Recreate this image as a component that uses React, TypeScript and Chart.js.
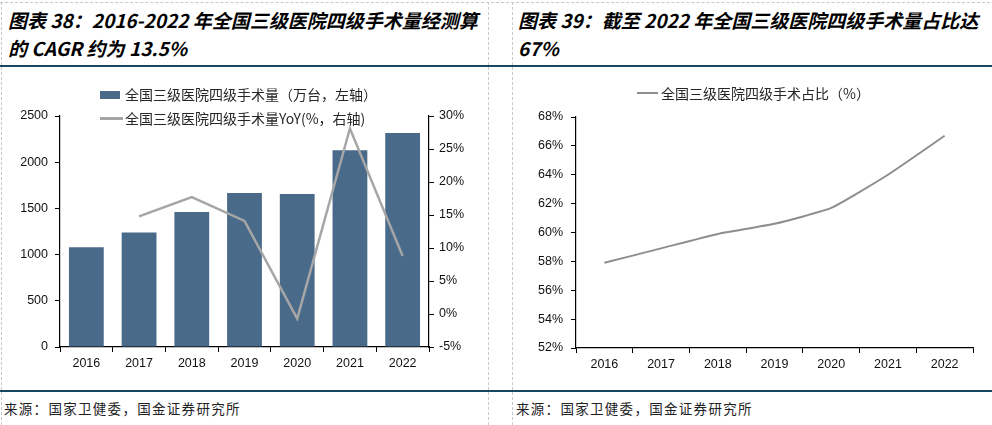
import React, { useEffect, useRef } from "react";
import { Chart, registerables } from "chart.js";

Chart.register(...registerables);

// ---- Data ----
const years = ["2016", "2017", "2018", "2019", "2020", "2021", "2022"];
const surgeryVolume = [1080, 1240, 1460, 1667, 1656, 2130, 2316]; // 万台
const surgeryYoY = [null, 14.8, 17.7, 14.1, -0.7, 28.1, 8.8]; // %
const fourthLevelShare = [57.9, 58.9, 59.9, 60.6, 61.7, 64.0, 66.7]; // %

const leftAxisRange = [0, 2500, 500];
const rightAxisRange = [-5, 30, 5];
const shareAxisRange = [52, 68, 2];

const volumeLabel = "全国三级医院四级手术量（万台，左轴）";
const yoyLabel = "全国三级医院四级手术量YoY(%，右轴)";
const shareLabel = "全国三级医院四级手术占比（%）";

const leftTitle = ["图表 38：2016-2022 年全国三级医院四级手术量经测算", "的 CAGR 约为 13.5%"];
const rightTitle = ["图表 39：截至 2022 年全国三级医院四级手术量占比达", "67%"];
const sourceText = "来源：国家卫健委，国金证券研究所";

// ---- Styles ----
const BAR_COLOR = "#4A6A8A";
const YOY_COLOR = "#A6A6A6";
const SHARE_COLOR = "#8E8E8E";
const RULE_COLOR = "#17485F";
const DASH_COLOR = "#C8C8C8";
const TICK_FONT = { family: "'Liberation Sans', Arial, sans-serif", size: 12.5 };
const CJK = "'Noto Sans CJK SC', 'Noto Sans', sans-serif";

function ChartCanvas({ config, width, height }: { config: any; width: number; height: number }) {
  const ref = useRef<HTMLCanvasElement | null>(null);
  useEffect(() => {
    if (!ref.current) return;
    const chart = new Chart(ref.current, config);
    return () => chart.destroy();
  }, [config]);
  return <canvas ref={ref} width={width} height={height} style={{ width, height, display: "block" }} />;
}

const fixWidth = (w: number) => (scale: any) => {
  scale.width = w;
};
const fixHeight = (h: number) => (scale: any) => {
  scale.height = h;
};

const leftConfig: any = {
  type: "bar",
  data: {
    labels: years,
    datasets: [
      {
        type: "line",
        label: yoyLabel,
        data: surgeryYoY,
        yAxisID: "yR",
        borderColor: YOY_COLOR,
        borderWidth: 2.5,
        pointRadius: 0,
        tension: 0,
        spanGaps: false,
        order: 0,
      },
      {
        type: "bar",
        label: volumeLabel,
        data: surgeryVolume,
        yAxisID: "yL",
        backgroundColor: BAR_COLOR,
        categoryPercentage: 1,
        barPercentage: 0.66,
        order: 1,
      },
    ],
  },
  options: {
    responsive: false,
    animation: false,
    layout: { padding: { top: 48, left: 0, right: 0, bottom: 0 } },
    plugins: { legend: { display: false }, tooltip: { enabled: false } },
    scales: {
      x: {
        offset: true,
        grid: { offset: true, drawOnChartArea: false, drawTicks: true, tickLength: 5, color: "#000" },
        border: { display: true, color: "#000", width: 1.2 },
        ticks: { font: TICK_FONT, color: "#111", padding: 4, maxRotation: 0 },
        afterFit: fixHeight(43),
      },
      yL: {
        position: "left",
        min: leftAxisRange[0],
        max: leftAxisRange[1],
        grid: { drawOnChartArea: false, tickLength: 5, color: "#000" },
        border: { display: true, color: "#000", width: 1.2 },
        ticks: {
          stepSize: leftAxisRange[2],
          font: TICK_FONT,
          color: "#111",
          padding: 7,
          callback: (v: any) => String(v),
        },
        afterFit: fixWidth(58),
      },
      yR: {
        position: "right",
        min: rightAxisRange[0],
        max: rightAxisRange[1],
        grid: { drawOnChartArea: false, tickLength: 5, color: "#000" },
        border: { display: true, color: "#000", width: 1.2 },
        ticks: {
          stepSize: rightAxisRange[2],
          font: TICK_FONT,
          color: "#111",
          padding: 5,
          callback: (v: any) => `${v}%`,
        },
        afterFit: fixWidth(59),
      },
    },
  },
};

const rightConfig: any = {
  type: "line",
  data: {
    labels: years,
    datasets: [
      {
        label: shareLabel,
        data: fourthLevelShare,
        borderColor: SHARE_COLOR,
        borderWidth: 2,
        pointRadius: 0,
        tension: 0.15,
        fill: false,
      },
    ],
  },
  options: {
    responsive: false,
    animation: false,
    layout: { padding: { top: 49, left: 0, right: 17, bottom: 0 } },
    plugins: { legend: { display: false }, tooltip: { enabled: false } },
    scales: {
      x: {
        offset: true,
        grid: { offset: true, drawOnChartArea: false, tickLength: 5, color: "#000" },
        border: { display: true, color: "#000", width: 1.2 },
        ticks: { font: TICK_FONT, color: "#111", padding: 4, maxRotation: 0 },
        afterFit: fixHeight(42),
      },
      y: {
        min: shareAxisRange[0],
        max: shareAxisRange[1],
        grid: { drawOnChartArea: false, tickLength: 5, color: "#000" },
        border: { display: true, color: "#000", width: 1.2 },
        ticks: {
          stepSize: shareAxisRange[2],
          font: TICK_FONT,
          color: "#111",
          padding: 8,
          callback: (v: any) => `${v}%`,
        },
        afterFit: fixWidth(63),
      },
    },
  },
};

const abs = (s: React.CSSProperties): React.CSSProperties => ({ position: "absolute", ...s });

function Title({ lines, left }: { lines: string[]; left: number }) {
  return (
    <>
      {lines.map((t, i) => (
        <div
          key={i}
          style={abs({
            left,
            top: 8 + i * 28,
            fontFamily: CJK,
            fontWeight: 700,
            fontStyle: "italic",
            fontSize: 19,
            lineHeight: "24px",
            color: "#000",
            whiteSpace: "nowrap",
          })}
        >
          {t}
        </div>
      ))}
    </>
  );
}

const legendText: React.CSSProperties = {
  fontFamily: CJK,
  fontSize: 14,
  lineHeight: "18px",
  color: "#262626",
  whiteSpace: "nowrap",
};

const sourceStyle: React.CSSProperties = {
  fontFamily: CJK,
  fontSize: 13.5,
  letterSpacing: 1.3,
  lineHeight: "16px",
  color: "#222",
  whiteSpace: "nowrap",
};

export default function App() {
  return (
    <div
      style={{
        position: "absolute",
        left: 0,
        top: 0,
        width: 992,
        height: 425,
        background: "#fff",
        overflow: "hidden",
      }}
    >
      {/* frame lines */}
      <div style={abs({ left: 0, top: 2, width: 990, height: 0, borderTop: `1px dashed ${DASH_COLOR}` })} />
      <div style={abs({ left: 1, top: 2, width: 0, height: 423, borderLeft: `1px dashed ${DASH_COLOR}` })} />
      <div style={abs({ left: 488, top: 2, width: 0, height: 423, borderLeft: `1px dashed ${DASH_COLOR}` })} />
      <div style={abs({ left: 512, top: 2, width: 0, height: 423, borderLeft: `1px dashed ${DASH_COLOR}` })} />
      <div style={abs({ left: 0, top: 65, width: 992, height: 2, background: RULE_COLOR })} />
      <div style={abs({ left: 0, top: 390, width: 992, height: 2, background: RULE_COLOR })} />

      <Title lines={leftTitle} left={8} />
      <Title lines={rightTitle} left={518} />

      {/* left chart */}
      <div style={abs({ left: 2, top: 68, width: 486, height: 322 })}>
        <ChartCanvas config={leftConfig} width={486} height={322} />
      </div>
      <div style={abs({ left: 100, top: 91, width: 20, height: 8, background: BAR_COLOR })} />
      <div style={abs({ left: 125, top: 85, ...legendText })}>{volumeLabel}</div>
      <div style={abs({ left: 100, top: 117, width: 23, height: 2.5, background: YOY_COLOR })} />
      <div style={abs({ left: 125, top: 109, ...legendText })}>{yoyLabel}</div>

      {/* right chart */}
      <div style={abs({ left: 513, top: 68, width: 477, height: 322 })}>
        <ChartCanvas config={rightConfig} width={477} height={322} />
      </div>
      <div style={abs({ left: 637, top: 92, width: 21, height: 2, background: SHARE_COLOR })} />
      <div style={abs({ left: 661, top: 84, ...legendText })}>{shareLabel}</div>

      {/* sources */}
      <div style={abs({ left: 4, top: 400, ...sourceStyle })}>{sourceText}</div>
      <div style={abs({ left: 516, top: 400, ...sourceStyle })}>{sourceText}</div>
    </div>
  );
}
